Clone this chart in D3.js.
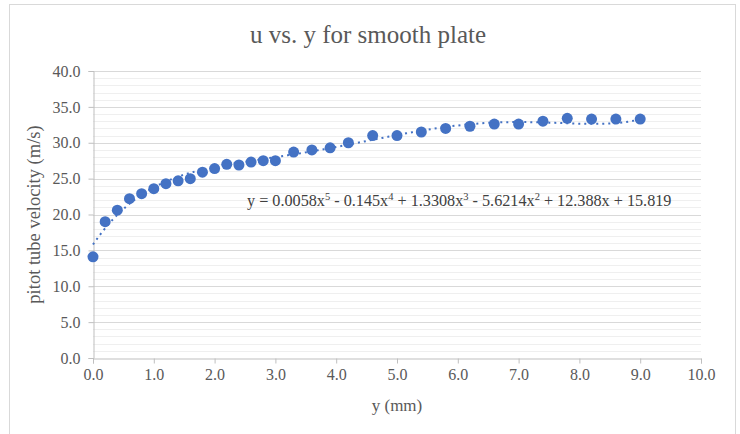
<!DOCTYPE html>
<html>
<head>
<meta charset="utf-8">
<script src="https://cdn.jsdelivr.net/npm/d3@7"></script>
<style>
  body { margin: 0; background: #fff; }
</style>
</head>
<body>
<div id="wrapper"></div>
<script>
// distance from plate (mm)
var yPos = [0, 0.2, 0.4, 0.6, 0.8, 1.0, 1.2, 1.4, 1.6, 1.8, 2.0, 2.2, 2.4, 2.6, 2.8, 3.0,
            3.3, 3.6, 3.9, 4.2, 4.6, 5.0, 5.4, 5.8, 6.2, 6.6, 7.0, 7.4, 7.8, 8.2, 8.6, 9.0];
// pitot tube velocity (m/s)
var vel = [14.1, 19.0, 20.6, 22.2, 22.9, 23.6, 24.3, 24.7, 25.0, 25.9, 26.4, 27.0, 26.9, 27.3, 27.5, 27.5,
           28.7, 29.0, 29.3, 30.0, 31.0, 31.0, 31.5, 32.0, 32.3, 32.6, 32.6, 33.0, 33.4, 33.3, 33.3, 33.3];
// trendline coefficients, x^5 .. x^0 (from the equation in the chart)
var coef = [0.0058, -0.145, 1.3308, -5.6214, 12.388, 15.819];

var xTicks = [0, 1, 2, 3, 4, 5, 6, 7, 8, 9, 10];
var yTicks = [0, 5, 10, 15, 20, 25, 30, 35, 40];

var titre = "u vs. y for smooth plate";
var labelX = "y (mm)";
var labelY = "pitot tube velocity (m/s)";

var SERIF = 'Liberation Serif, Times New Roman, serif';
var W = 740, H = 434;
var m = { left: 93, right: 39, top: 71, bottom: 76 };

var svg = d3.select('#wrapper').append('svg')
    .attr('width', W).attr('height', H)
    .attr('font-family', SERIF);

// cadre du graphique
svg.append('rect')
    .attr('x', 9.5).attr('y', 4.5)
    .attr('width', 726).attr('height', 440)
    .attr('fill', '#fff').attr('stroke', '#d9d9d9');

var x = d3.scaleLinear().domain([0, 10]).range([m.left, W - m.right]);
var y = d3.scaleLinear().domain([0, 40]).range([H - m.bottom, m.top]);

// grille mineure (pas de 1.0)
svg.append('g').selectAll('line')
    .data(d3.range(1, 40).filter(function(d) { return d % 5 != 0; }))
    .enter().append('line')
    .attr('x1', x(0)).attr('x2', x(10))
    .attr('y1', function(d) { return Math.round(y(d)) + 0.5; })
    .attr('y2', function(d) { return Math.round(y(d)) + 0.5; })
    .attr('stroke', '#efefef');

// grille majeure
svg.append('g').selectAll('line')
    .data(yTicks.slice(1))
    .enter().append('line')
    .attr('x1', x(0)).attr('x2', x(10))
    .attr('y1', function(d) { return Math.round(y(d)) + 0.5; })
    .attr('y2', function(d) { return Math.round(y(d)) + 0.5; })
    .attr('stroke', '#d9d9d9');

// axes
var axX = svg.append('g')
    .attr('transform', 'translate(0,' + (Math.round(y(0)) + 0.5) + ')')
    .call(d3.axisBottom(x).tickValues(xTicks).tickSize(5).tickPadding(5)
        .tickFormat(d3.format('.1f')));
var axY = svg.append('g')
    .attr('transform', 'translate(' + (Math.round(x(0)) + 0.5) + ',0)')
    .call(d3.axisLeft(y).tickValues(yTicks).tickSize(5).tickPadding(8)
        .tickFormat(d3.format('.1f')));

[axX, axY].forEach(function(a) {
    a.attr('font-family', SERIF).attr('font-size', 16);
    a.select('.domain').attr('stroke', '#bfbfbf');
    a.selectAll('.tick line').attr('stroke', '#bfbfbf');
    a.selectAll('.tick text').attr('fill', '#595959');
});

// courbe de tendance polynomiale
function poly(t) {
    var v = 0;
    for (var k = 0; k < coef.length; k++) v = v * t + coef[k];
    return v;
}
var tt = d3.range(0, 9.0001, 0.05);
svg.append('path')
    .datum(tt)
    .attr('fill', 'none')
    .attr('stroke', '#4472C4')
    .attr('stroke-width', 2)
    .attr('stroke-dasharray', '2,4')
    .attr('d', d3.line().x(function(d) { return x(d); }).y(function(d) { return y(poly(d)); }));

// points
svg.append('g').selectAll('circle')
    .data(yPos)
    .enter().append('circle')
    .attr('cx', function(d) { return x(d); })
    .attr('cy', function(d, i) { return y(vel[i]); })
    .attr('r', 5.5)
    .attr('fill', '#4472C4');

// equation
var eq = svg.append('text')
    .attr('x', 247).attr('y', 206)
    .attr('fill', '#404040')
    .attr('font-size', 16.2);
var parts = [['y = 0.0058x', '5'], [' - 0.145x', '4'], [' + 1.3308x', '3'], [' - 5.6214x', '2'], [' + 12.388x + 15.819', null]];
var shift = 0;
parts.forEach(function(p) {
    eq.append('tspan').attr('dy', -shift).text(p[0]);
    shift = 0;
    if (p[1]) {
        eq.append('tspan').attr('dy', -6).attr('font-size', 10.5).text(p[1]);
        shift = -6;
    }
});

// titre
svg.append('text')
    .attr('x', 368).attr('y', 43)
    .attr('text-anchor', 'middle')
    .attr('fill', '#595959')
    .attr('font-size', 25)
    .text(titre);

svg.append('text')
    .attr('x', x(5)).attr('y', 411)
    .attr('text-anchor', 'middle')
    .attr('fill', '#595959')
    .attr('font-size', 17)
    .text(labelX);

svg.append('text')
    .attr('transform', 'translate(40,' + y(20) + ') rotate(-90)')
    .attr('text-anchor', 'middle')
    .attr('fill', '#595959')
    .attr('font-size', 18.5)
    .text(labelY);
</script>
</body>
</html>
